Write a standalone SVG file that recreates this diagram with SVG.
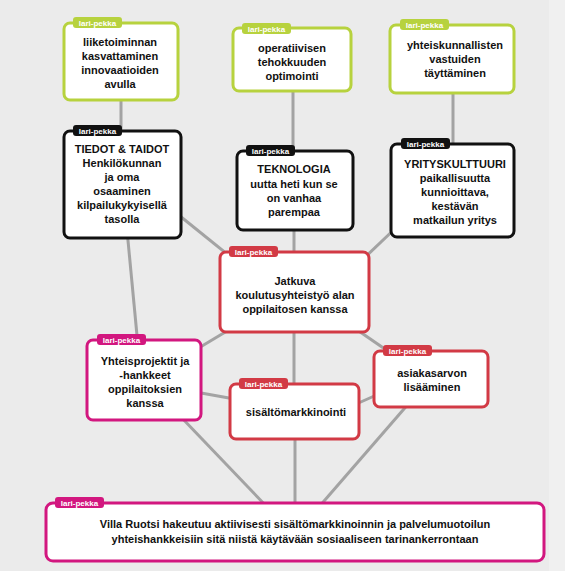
<svg xmlns="http://www.w3.org/2000/svg" width="565" height="571" viewBox="0 0 565 571">
<style>
.box{fill:#fff;stroke-width:3}
.g{stroke:#b7d23e}.gt{fill:#b7d23e}
.k{stroke:#111}.kt{fill:#111}
.r{stroke:#d23a45}.rt{fill:#d23a45}
.m{stroke:#d2177f}.mt{fill:#d2177f}
.t{font-family:"Liberation Sans",Arial,sans-serif;font-weight:bold;font-size:11px;fill:#111;text-anchor:middle}
.tag{font-family:"Liberation Sans",Arial,sans-serif;font-weight:bold;font-size:8px;fill:#fff;text-anchor:middle}
.c{stroke:#a3a3a3;stroke-width:3;fill:none}
</style>
<rect width="565" height="571" fill="#ebebeb"/>
<rect x="549" y="0" width="16" height="571" fill="#f0f0f0"/>
<g id="connectors" class="c">
<line x1="121" y1="95" x2="121" y2="135"/>
<line x1="293" y1="88" x2="293" y2="155"/>
<line x1="453" y1="90" x2="453" y2="148"/>
<line x1="170" y1="208" x2="232" y2="258"/>
<line x1="294" y1="225" x2="294" y2="258"/>
<line x1="402" y1="222" x2="360" y2="262"/>
<line x1="127" y1="230" x2="138" y2="346"/>
<line x1="192" y1="352" x2="232" y2="328"/>
<line x1="294" y1="325" x2="294" y2="390"/>
<line x1="350" y1="325" x2="395" y2="356"/>
<line x1="190" y1="391" x2="240" y2="400"/>
<line x1="345" y1="409" x2="390" y2="389"/>
<line x1="180" y1="416" x2="268" y2="508"/>
<line x1="295" y1="432" x2="295" y2="508"/>
<line x1="410" y1="402" x2="318" y2="508"/>
</g>
<g id="n1">
<rect class="box g" x="64" y="23" width="114" height="77" rx="6"/>
<rect class="gt" x="73" y="17" width="49" height="11" rx="3"/>
<text class="tag" x="97.5" y="25.5">lari-pekka</text>
<text class="t" x="120" y="46">liiketoiminnan</text>
<text class="t" x="120" y="60">kasvattaminen</text>
<text class="t" x="120" y="74">innovaatioiden</text>
<text class="t" x="120" y="88">avulla</text>
</g>
<g id="n2">
<rect class="box g" x="233" y="28" width="118" height="63" rx="6"/>
<rect class="gt" x="242" y="23" width="49" height="11" rx="3"/>
<text class="tag" x="266.5" y="31.5">lari-pekka</text>
<text class="t" x="292" y="52">operatiivisen</text>
<text class="t" x="292" y="66">tehokkuuden</text>
<text class="t" x="292" y="80">optimointi</text>
</g>
<g id="n3">
<rect class="box g" x="390" y="25" width="124" height="68" rx="6"/>
<rect class="gt" x="400" y="19" width="49" height="11" rx="3"/>
<text class="tag" x="424.5" y="27.5">lari-pekka</text>
<text class="t" x="455" y="49">yhteiskunnallisten</text>
<text class="t" x="455" y="63">vastuiden</text>
<text class="t" x="455" y="77">täyttäminen</text>
</g>
<g id="n4">
<rect class="box k" x="64" y="131" width="117" height="107" rx="6"/>
<rect class="kt" x="73" y="125" width="49" height="11" rx="3"/>
<text class="tag" x="97.5" y="133.5">lari-pekka</text>
<text class="t" x="122" y="153">TIEDOT &amp; TAIDOT</text>
<text class="t" x="122" y="167">Henkilökunnan</text>
<text class="t" x="122" y="181">ja oma</text>
<text class="t" x="122" y="195">osaaminen</text>
<text class="t" x="122" y="209">kilpailukykyisellä</text>
<text class="t" x="122" y="223">tasolla</text>
</g>
<g id="n5">
<rect class="box k" x="237" y="151" width="116" height="79" rx="6"/>
<rect class="kt" x="246" y="145" width="49" height="11" rx="3"/>
<text class="tag" x="270.5" y="153.5">lari-pekka</text>
<text class="t" x="294" y="173">TEKNOLOGIA</text>
<text class="t" x="294" y="188">uutta heti kun se</text>
<text class="t" x="294" y="202">on vanhaa</text>
<text class="t" x="294" y="216">parempaa</text>
</g>
<g id="n6">
<rect class="box k" x="391" y="144" width="123" height="93" rx="6"/>
<rect class="kt" x="401" y="138" width="49" height="11" rx="3"/>
<text class="tag" x="425.5" y="146.5">lari-pekka</text>
<text class="t" x="455" y="168">YRITYSKULTTUURI</text>
<text class="t" x="455" y="182">paikallisuutta</text>
<text class="t" x="455" y="196">kunnioittava,</text>
<text class="t" x="455" y="210">kestävän</text>
<text class="t" x="455" y="224">matkailun yritys</text>
</g>
<g id="n7">
<rect class="box r" x="220" y="252" width="149" height="80" rx="6"/>
<rect class="rt" x="229" y="246" width="49" height="11" rx="3"/>
<text class="tag" x="253.5" y="254.5">lari-pekka</text>
<text class="t" x="295" y="285">Jatkuva</text>
<text class="t" x="295" y="299">koulutusyhteistyö alan</text>
<text class="t" x="295" y="313">oppilaitosen kanssa</text>
</g>
<g id="n8">
<rect class="box m" x="87" y="340" width="114" height="80" rx="6"/>
<rect class="mt" x="97" y="334" width="49" height="11" rx="3"/>
<text class="tag" x="121.5" y="342.5">lari-pekka</text>
<text class="t" x="145" y="365">Yhteisprojektit ja</text>
<text class="t" x="145" y="379">-hankkeet</text>
<text class="t" x="145" y="393">oppilaitoksien</text>
<text class="t" x="145" y="407">kanssa</text>
</g>
<g id="n9">
<rect class="box r" x="230" y="384" width="129" height="55" rx="6"/>
<rect class="rt" x="239" y="378" width="49" height="11" rx="3"/>
<text class="tag" x="263.5" y="386.5">lari-pekka</text>
<text class="t" x="296" y="416">sisältömarkkinointi</text>
</g>
<g id="n10">
<rect class="box r" x="374" y="351" width="114" height="56" rx="6"/>
<rect class="rt" x="383" y="345" width="49" height="11" rx="3"/>
<text class="tag" x="407.5" y="353.5">lari-pekka</text>
<text class="t" x="432" y="377">asiakasarvon</text>
<text class="t" x="432" y="391">lisääminen</text>
</g>
<g id="n11">
<rect class="box m" x="46" y="503" width="498" height="58" rx="7"/>
<rect class="mt" x="55" y="497" width="49" height="11" rx="3"/>
<text class="tag" x="79.5" y="505.5">lari-pekka</text>
<text class="t" x="295" y="528">Villa Ruotsi hakeutuu aktiivisesti sisältömarkkinoinnin ja palvelumuotoilun</text>
<text class="t" x="295" y="543">yhteishankkeisiin sitä niistä käytävään sosiaaliseen tarinankerrontaan</text>
</g>
</svg>
